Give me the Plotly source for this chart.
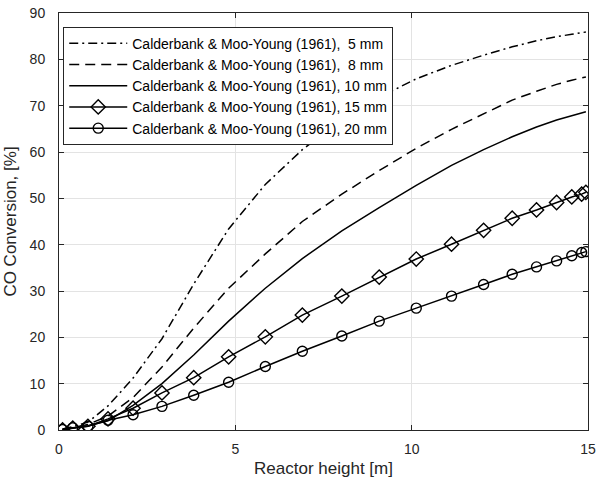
import plotly.graph_objects as go

# Reactor height nodes [m]
height = [0.10, 0.39, 0.82, 1.39, 2.10, 2.92, 3.82, 4.81, 5.85, 6.90, 8.02,
          9.08, 10.13, 11.13, 12.04, 12.85, 13.54, 14.11, 14.54, 14.82, 14.94]

# CO conversion [%]
conv_5mm = [0.2, 0.7, 1.7, 5.2, 11.2, 19.7, 31.5, 43.4, 53.0, 60.5, 67.0,
            71.8, 75.8, 78.7, 80.9, 82.7, 84.0, 84.9, 85.4, 85.8, 85.9]
conv_8mm = [0.1, 0.5, 1.2, 3.0, 7.0, 13.6, 22.0, 30.6, 38.0, 45.0, 50.9,
            56.0, 60.8, 64.9, 68.3, 71.2, 73.1, 74.6, 75.5, 76.0, 76.2]
conv_10mm = [0.1, 0.4, 0.9, 2.0, 5.3, 10.0, 16.2, 23.5, 30.6, 37.0, 43.0,
             48.0, 52.8, 57.1, 60.5, 63.3, 65.4, 66.9, 67.8, 68.4, 68.7]
conv_15mm = [0.0, 0.4, 0.8, 2.4, 4.7, 8.0, 11.3, 15.8, 20.1, 24.8, 28.9,
             33.0, 36.9, 40.1, 43.1, 45.7, 47.5, 49.1, 50.3, 50.9, 51.3]
conv_20mm = [0.1, 0.5, 0.8, 2.1, 3.3, 5.1, 7.5, 10.3, 13.7, 17.0, 20.3,
             23.5, 26.3, 28.9, 31.4, 33.6, 35.2, 36.5, 37.6, 38.3, 38.5]

labels = ["Calderbank & Moo-Young (1961),  5 mm",
          "Calderbank & Moo-Young (1961),  8 mm",
          "Calderbank & Moo-Young (1961), 10 mm",
          "Calderbank & Moo-Young (1961), 15 mm",
          "Calderbank & Moo-Young (1961), 20 mm"]

x_ticks = [0, 5, 10, 15]
y_ticks = [0, 10, 20, 30, 40, 50, 60, 70, 80, 90]

FONT = "Liberation Sans, Arial, sans-serif"
INK = "#262626"
LW = 1.5

fig = go.Figure()
fig.add_trace(go.Scatter(x=height, y=conv_5mm, mode="lines", name=labels[0],
                         line=dict(color="black", width=LW, dash="9px,4px,2px,4px")))
fig.add_trace(go.Scatter(x=height, y=conv_8mm, mode="lines", name=labels[1],
                         line=dict(color="black", width=LW, dash="10px,6px")))
fig.add_trace(go.Scatter(x=height, y=conv_10mm, mode="lines", name=labels[2],
                         line=dict(color="black", width=LW)))
fig.add_trace(go.Scatter(x=height, y=conv_15mm, mode="lines+markers", name=labels[3],
                         line=dict(color="black", width=LW),
                         marker=dict(symbol="diamond-open", size=11, color="black",
                                     line=dict(width=1.4, color="black"))))
fig.add_trace(go.Scatter(x=height, y=conv_20mm, mode="lines+markers", name=labels[4],
                         line=dict(color="black", width=LW),
                         marker=dict(symbol="circle-open", size=10, color="black",
                                     line=dict(width=1.4, color="black"))))

axis_common = dict(showline=True, linecolor=INK, linewidth=1, mirror="ticks",
                   ticks="inside", ticklen=5, tickcolor=INK, tickwidth=1,
                   showgrid=True, gridcolor="#e3e3e3", gridwidth=1,
                   zeroline=False, automargin=False,
                   tickfont=dict(family=FONT, size=14, color=INK))

fig.update_xaxes(range=[0, 15], tickvals=x_ticks, ticklabelstandoff=6,
                 title=dict(text="Reactor height [m]", font=dict(family=FONT, size=17, color=INK),
                            standoff=6),
                 **axis_common)
fig.update_yaxes(range=[0, 90], tickvals=y_ticks, ticklabelstandoff=10,
                 title=dict(text="CO Conversion, [%]", font=dict(family=FONT, size=17, color=INK),
                            standoff=8),
                 **axis_common)

fig.update_layout(
    width=597, height=487,
    margin=dict(l=59, r=9, t=13, b=57, pad=0),
    paper_bgcolor="white", plot_bgcolor="white",
    font=dict(family=FONT, size=14, color="black"),
    showlegend=True,
    legend=dict(x=0.008, y=0.967, xanchor="left", yanchor="top",
                bgcolor="white", bordercolor=INK, borderwidth=1,
                font=dict(family=FONT, size=14, color="black"),
                tracegroupgap=0, itemwidth=58),
)

fig.write_html("out.html")
